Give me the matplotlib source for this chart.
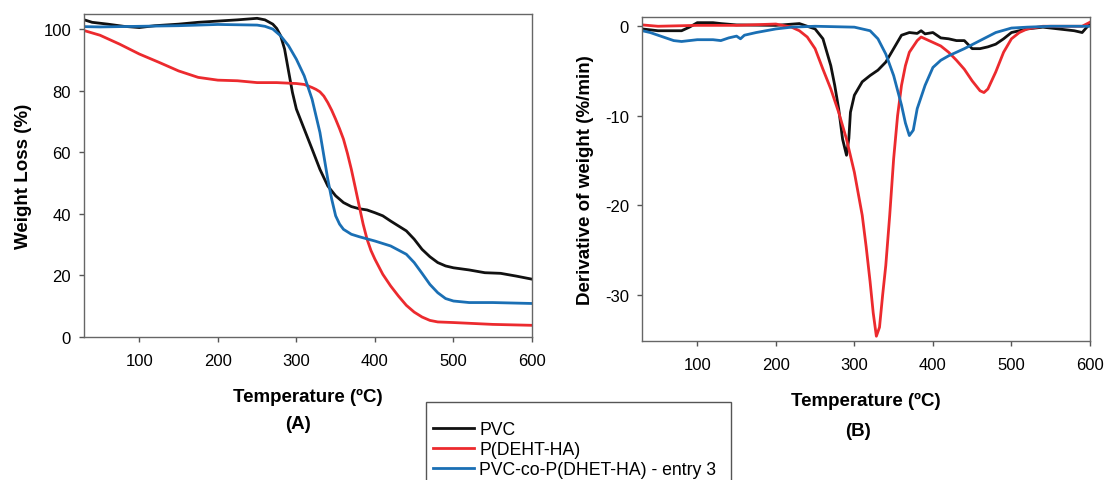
import matplotlib
matplotlib.use('Agg')
import matplotlib.pyplot as plt
from matplotlib.patches import Rectangle

plt.rcParams['font.family'] = ['Liberation Sans', 'DejaVu Sans']
plt.rcParams['axes.unicode_minus'] = False

# (A) TGA curves - weight loss (%)
pvc_t = [30, 40, 60, 80, 100, 120, 150, 175, 200, 225, 250, 260, 270, 275, 280, 285, 290, 295, 300, 310, 320,
         330, 340, 350, 360, 370, 380, 390, 400, 410, 420, 430, 440, 450, 460, 470, 480, 490, 500, 520,
         540, 560, 580, 600]
pvc_w = [103.0, 102.2, 101.6, 100.9, 100.5, 101.1, 101.6, 102.2, 102.6, 103.0, 103.5, 103.0, 101.6, 100.2, 97.8,
         93.5, 86.4, 79.4, 74.0, 67.5, 61.0, 54.4, 49.0, 45.8, 43.6, 42.3, 41.6, 41.2, 40.3, 39.3, 37.6,
         36.0, 34.4, 31.7, 28.4, 26.0, 24.1, 23.0, 22.4, 21.7, 20.8, 20.6, 19.7, 18.7]

deht_t = [30, 50, 75, 100, 125, 150, 175, 200, 225, 250, 275, 300, 310, 320, 325, 330, 335, 340, 345, 350,
          355, 360, 365, 370, 375, 380, 385, 390, 395, 400, 410, 420, 430, 440, 450, 460, 470, 480, 500,
          550, 600]
deht_w = [99.5, 98.0, 95.1, 91.9, 89.2, 86.4, 84.3, 83.4, 83.2, 82.6, 82.6, 82.3, 82.0, 81.0, 80.4, 79.6,
          78.2, 76.1, 73.6, 70.7, 67.6, 64.2, 59.6, 54.4, 48.5, 42.5, 36.6, 31.7, 28.0, 25.2, 20.3, 16.5,
          13.2, 10.2, 8.0, 6.4, 5.3, 4.8, 4.6, 4.0, 3.7]

co_t = [30, 50, 100, 150, 200, 250, 260, 270, 280, 290, 300, 310, 320, 330, 340, 345, 350, 355, 360, 370, 380,
        400, 420, 440, 450, 460, 470, 480, 490, 500, 520, 550, 600]
co_w = [100.8, 100.7, 100.9, 101.1, 101.5, 101.3, 100.9, 100.0, 97.8, 94.6, 90.2, 84.8, 77.2, 66.4, 51.2,
        44.7, 39.3, 36.6, 34.9, 33.3, 32.5, 31.1, 29.5, 26.8, 24.1, 20.6, 17.0, 14.3, 12.4, 11.6, 11.1, 11.1,
        10.8]

# (B) DTG curves - derivative of weight (%/min)
pvc_dt = [30, 50, 70, 80, 90, 100, 110, 120, 130, 150, 200, 230, 250, 260, 270, 275, 280, 285, 290, 293,
          295, 300, 310, 320, 330, 340, 350, 360, 370, 380, 385, 390, 400, 410, 420, 430, 440, 450, 460,
          470, 480, 490, 500, 520, 540, 560, 580, 590, 600]
pvc_d = [-0.3, -0.5, -0.5, -0.5, -0.1, 0.4, 0.4, 0.4, 0.3, 0.15, 0.1, 0.3, -0.3, -1.4, -4.4, -6.6, -9.2,
         -12.6, -14.4, -12.5, -9.6, -7.7, -6.2, -5.5, -4.9, -4.0, -2.5, -1.0, -0.7, -0.8, -0.5, -0.85, -0.7,
         -1.3, -1.4, -1.6, -1.6, -2.5, -2.5, -2.3, -2.0, -1.4, -0.7, -0.3, -0.1, -0.3, -0.5, -0.7, 0.3]

deht_dt = [30, 50, 100, 150, 200, 220, 230, 240, 250, 260, 270, 280, 290, 300, 310, 315, 320, 324, 328, 332,
           336, 340, 345, 350, 355, 360, 365, 370, 380, 385, 390, 400, 410, 420, 430, 440, 450, 460, 465, 470,
           480, 490, 500, 510, 520, 540, 560, 590, 600]
deht_d = [0.15, 0.0, 0.1, 0.1, 0.25, -0.1, -0.5, -1.2, -2.5, -4.8, -7.0, -9.6, -12.6, -16.3, -21.1, -24.6,
          -28.5, -32.0, -34.6, -33.6, -30.0, -26.7, -21.1, -14.8, -10.0, -6.6, -4.4, -2.9, -1.6, -1.2, -1.4,
          -1.8, -2.2, -2.9, -3.8, -4.8, -6.1, -7.2, -7.4, -7.0, -5.1, -2.9, -1.4, -0.7, -0.3, 0.0, 0.0, 0.0,
          0.45]

co_dt = [30, 40, 50, 60, 70, 80, 100, 120, 130, 140, 150, 155, 160, 175, 200, 220, 250, 300, 320, 330, 340,
         350, 360, 365, 370, 375, 380, 390, 400, 410, 420, 440, 460, 480, 500, 520, 550, 600]
co_d = [-0.5, -0.7, -1.0, -1.3, -1.6, -1.7, -1.5, -1.5, -1.6, -1.3, -1.1, -1.4, -1.0, -0.7, -0.3, -0.1,
        0.0, -0.1, -0.5, -1.4, -3.1, -5.5, -8.8, -10.8, -12.2, -11.6, -9.2, -6.6, -4.6, -3.8, -3.3, -2.5,
        -1.6, -0.7, -0.2, -0.1, 0.0, 0.0]

labels = ['PVC', 'P(DEHT-HA)', 'PVC-co-P(DHET-HA) - entry 3']
colors = ['#111111', '#ec2a2e', '#1a6fb4']

W, H = 1107, 481
fig = plt.figure(figsize=(W / 100, H / 100), dpi=100)
ax1 = fig.add_axes([84.3 / W, 1 - 337.7 / H, 447.7 / W, 323.0 / H])
ax2 = fig.add_axes([642.3 / W, 1 - 341.7 / H, 447.7 / W, 323.4 / H])

lines = []
for t, w, c, lab in zip([pvc_t, deht_t, co_t], [pvc_w, deht_w, co_w], colors, labels):
    l, = ax1.plot(t, w, color=c, lw=2, label=lab)
    lines.append(l)
for t, d, c in zip([pvc_dt, deht_dt, co_dt], [pvc_d, deht_d, co_d], colors):
    ax2.plot(t, d, color=c, lw=2)

ax1.set_xlim(30, 600)
ax1.set_ylim(0, 105)
ax1.set_xticks([100, 200, 300, 400, 500, 600])
ax1.set_yticks([0, 20, 40, 60, 80, 100])
ax1.set_ylabel('Weight Loss (%)', fontsize=13.5, fontweight='bold', labelpad=8)

ax2.set_xlim(30, 600)
ax2.set_ylim(-35.1, 1.0)
ax2.set_xticks([100, 200, 300, 400, 500, 600])
ax2.set_yticks([-30, -20, -10, 0])
ax2.set_ylabel('Derivative of weight (%/min)', fontsize=13.5, fontweight='bold', labelpad=8)

for ax in (ax1, ax2):
    ax.set_xlabel('Temperature (ºC)', fontsize=13.5, fontweight='bold', labelpad=14)
    ax.tick_params(labelsize=12, length=3.5, width=1, color='#555555', direction='out')
    ax.tick_params(axis='x', pad=8.5)
    ax.tick_params(axis='y', pad=6)
    for s in ax.spines.values():
        s.set_color('#666666')
        s.set_linewidth(1)

fig.text(298.3 / W, 1 - 425 / H, '(A)', fontsize=13.5, fontweight='bold', ha='center', va='center')
fig.text(857.7 / W, 1 - 431.7 / H, '(B)', fontsize=13.5, fontweight='bold', ha='center', va='center')

# legend box, runs off the bottom edge like the original
box = Rectangle((425.7 / W, -0.05), (731 - 425.7) / W, (1 - 402.7 / H) + 0.05, transform=fig.transFigure,
                facecolor='white', edgecolor='#555555', linewidth=1, zorder=1)
fig.patches.append(box)

leg = fig.legend(handles=lines, loc='upper left', bbox_to_anchor=(433.3 / W, 1 - 422.5 / H),
                 fontsize=12.7, frameon=False, borderaxespad=0, borderpad=0, handlelength=2.3,
                 labelspacing=0.16, handletextpad=0.3)
leg.set_zorder(2)

fig.savefig('out.png', dpi=100)
